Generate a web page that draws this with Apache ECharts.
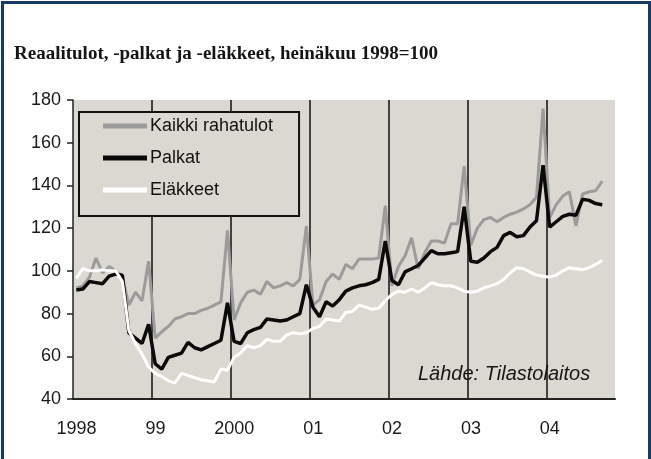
<!DOCTYPE html>
<html lang="fi">
<head>
<meta charset="UTF-8">
<title>Reaalitulot, -palkat ja -eläkkeet</title>
<script src="https://cdn.jsdelivr.net/npm/echarts@6/dist/echarts.min.js"></script>
<style>
    html, body { margin: 0; padding: 0; background: #ffffff; }
</style>
</head>
<body>
<div id="main" style="width:651px;height:459px;"></div>
<script>
// kuukausisarjat tammikuu 1998 - syyskuu 2004, heinäkuu 1998 = 100
var startYear = 1998;
var yearTicks = [1998, 1999, 2000, 2001, 2002, 2003, 2004];
var yearLabels = ['1998', '99', '2000', '01', '02', '03', '04'];
var seriesNames = ['Kaikki rahatulot', 'Palkat', 'Eläkkeet'];

var kaikki = [
    92, 93, 97, 106, 99, 102, 100, 97.5, 84, 90, 86, 104.5,
    68.5, 71.5, 74, 77.5, 78.5, 80, 80, 81.5, 82.5, 84, 85.5, 119,
    77, 85, 90, 91, 89, 95, 92, 93, 94.5, 93, 96, 121,
    84, 86.5, 95, 98.5, 96, 103, 101, 105.5, 105.5, 105.5, 106, 130.5,
    93, 102, 107, 115.5, 101, 108.5, 114, 114, 113, 122, 122, 149,
    112, 120, 124, 125, 123, 125, 126.5, 127.5, 129, 131, 134.5, 176,
    125, 131, 135, 137, 121, 136, 137, 137.5, 142
];
var palkat = [
    91, 91.5, 95, 94.5, 94, 97.5, 98.5, 98, 71, 68.5, 66, 75,
    56.5, 54, 59.5, 60.5, 61.5, 66.5, 64, 63, 64.5, 66, 67.5, 85,
    67, 66, 71, 72.5, 73.5, 77.5, 77, 76.5, 77, 78.5, 80, 93.5,
    83, 78.5, 85.5, 83.5, 86.5, 90.5, 92, 93, 93.5, 94.5, 96, 114,
    95.5, 93.5, 99.5, 101, 102.5, 106, 109.5, 108, 108, 108.5, 109, 130,
    104.5, 104, 106, 109, 111, 116.5, 118, 116, 116.5, 120.5, 123.5, 149.5,
    120.5, 123, 125.5, 126.5, 126, 133.5, 133, 131.5, 131
];
var elakkeet = [
    96.5, 101, 100, 100, 100.5, 100, 100, 95, 72, 66, 61, 55,
    52, 50.5, 48.5, 47.5, 52, 51, 50, 49, 48.5, 48, 54, 53.5,
    59.5, 61.5, 65, 64, 65, 68, 67, 67, 70, 71, 70.5, 71,
    73, 74, 77.5, 77, 76.5, 80.5, 81, 84, 83, 82, 82.5, 86,
    89, 90.5, 90, 91.5, 90, 92, 94.5, 93.5, 93, 93, 92, 90.5,
    90, 90.5, 92, 93, 94, 96, 99, 101.5, 101, 99.5, 98, 97.5,
    97, 98, 100, 101.5, 101, 100.5, 101.5, 103, 105
];

function monthly(values) {
    return values.map(function (v, i) {
        return [startYear + (i + 0.5) / 12, v];
    });
}

var plotBg = '#dbd8d2';
var font = "'Liberation Sans Narrow', 'Liberation Sans', Arial, sans-serif";

var myChart = echarts.init(document.getElementById('main'));

var option = {
    backgroundColor: '#ffffff',
    animation: false,
    title: {
        text: 'Reaalitulot, -palkat ja -eläkkeet, heinäkuu 1998=100',
        left: 9,
        top: 40,
        textStyle: {
            fontFamily: "'Liberation Serif', 'DejaVu Serif', serif",
            fontWeight: 'bold',
            fontSize: 19,
            color: '#151515'
        }
    },
    legend: {
        data: seriesNames,
        orient: 'vertical',
        left: 79,
        top: 112,
        padding: [5, 26, 17, 24],
        itemGap: 14,
        itemWidth: 44,
        itemHeight: 5,
        icon: 'rect',
        backgroundColor: plotBg,
        borderColor: '#111',
        borderWidth: 2,
        textStyle: {
            fontFamily: font,
            fontSize: 18,
            color: '#111',
            padding: [0, 0, 0, -2]
        }
    },
    grid: {
        left: 73,
        top: 100,
        right: 36,
        bottom: 60,
        show: true,
        backgroundColor: plotBg,
        borderWidth: 0
    },
    xAxis: {
        type: 'value',
        min: 1998,
        max: 2004.87,
        interval: 1,
        axisLine: { lineStyle: { color: '#222', width: 2 } },
        axisTick: { show: false },
        axisLabel: {
            margin: 21,
            fontFamily: font,
            fontSize: 18,
            color: '#1a1a1a',
            padding: [0, 0, 0, 7],
            showMaxLabel: false,
            formatter: function (v) {
                var i = yearTicks.indexOf(v);
                return i < 0 ? '' : yearLabels[i];
            }
        },
        splitLine: {
            show: true,
            showMinLine: false,
            showMaxLine: false,
            lineStyle: { color: '#111', width: 1.5 }
        }
    },
    yAxis: {
        type: 'value',
        min: 40,
        max: 180,
        interval: 20,
        axisLine: { show: true, lineStyle: { color: '#222', width: 1.5 } },
        axisTick: { show: true, length: 6, lineStyle: { color: '#222', width: 1.5 } },
        axisLabel: {
            margin: 12,
            fontFamily: font,
            fontSize: 18,
            color: '#1a1a1a'
        },
        splitLine: { show: false }
    },
    series: [
        {
            name: seriesNames[0],
            type: 'line',
            data: monthly(kaikki),
            showSymbol: false,
            color: '#9b9b9b',
            lineStyle: { width: 3, color: '#9b9b9b' }
        },
        {
            name: seriesNames[1],
            type: 'line',
            data: monthly(palkat),
            showSymbol: false,
            color: '#0a0a0a',
            lineStyle: { width: 3.5, color: '#0a0a0a' }
        },
        {
            name: seriesNames[2],
            type: 'line',
            data: monthly(elakkeet),
            showSymbol: false,
            color: '#ffffff',
            lineStyle: { width: 3, color: '#ffffff' }
        }
    ],
    graphic: [
        {
            type: 'text',
            left: 418,
            top: 364,
            style: {
                text: 'Lähde: Tilastolaitos',
                font: "italic 20px " + font,
                fill: '#151515'
            }
        },
        {
            type: 'rect',
            left: 0,
            top: 0,
            shape: { x: 1.5, y: 1.5, width: 647, height: 470 },
            style: { fill: 'none', stroke: '#173a66', lineWidth: 3 },
            silent: true
        }
    ]
};

myChart.setOption(option);
</script>
</body>
</html>
